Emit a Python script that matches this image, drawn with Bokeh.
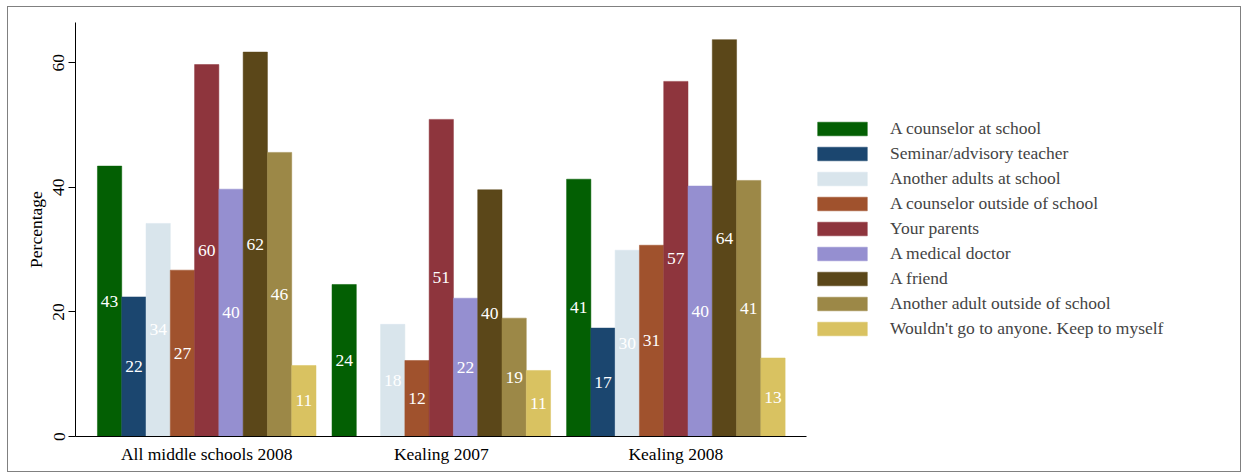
from bokeh.plotting import figure
from bokeh.models import Range1d, FixedTicker, Legend, LegendItem, ColumnDataSource
from bokeh.embed import file_html
from bokeh.resources import INLINE
from bokeh.core.properties import value

# ---- data ----
groups = ["All middle schools 2008", "Kealing 2007", "Kealing 2008"]
series = [
    "A counselor at school",
    "Seminar/advisory teacher",
    "Another adults at school",
    "A counselor outside of school",
    "Your parents",
    "A medical doctor",
    "A friend",
    "Another adult outside of school",
    "Wouldn't go to anyone. Keep to myself",
]
counselor_school = [43.4, 24.4, 41.3]
advisory_teacher = [22.4, None, 17.4]
other_adult_school = [34.2, 18.0, 29.9]
counselor_outside = [26.7, 12.2, 30.7]
parents = [59.7, 50.9, 57.0]
doctor = [39.7, 22.2, 40.2]
friend = [61.7, 39.6, 63.7]
other_adult_outside = [45.6, 19.0, 41.1]
nobody = [11.4, 10.6, 12.6]
values = [counselor_school, advisory_teacher, other_adult_school, counselor_outside,
          parents, doctor, friend, other_adult_outside, nobody]
colors = ["#035F03", "#1B466F", "#D9E5EC", "#A0522D", "#8E353D",
          "#958FD0", "#5B4719", "#9C8847", "#D9C261"]
y_ticks = [0, 20, 40, 60]

FONT = "Liberation Serif"
FS = "17.5px"

n = len(series)
gap = 0.66
group_starts = [g * (n + gap) for g in range(len(groups))]
group_centers = [s + n / 2 for s in group_starts]
axis_start = -0.904
axis_end = group_starts[-1] + n + 0.88
frame_px = 1167.0
px_per_unit = 731.0 / (axis_end - axis_start)
x_end = axis_start + frame_px / px_per_unit

p = figure(width=1234, height=466, output_backend="svg", toolbar_location=None,
           x_range=Range1d(axis_start, x_end), y_range=Range1d(0, 66.45),
           min_border_left=67, min_border_right=0, min_border_top=15, min_border_bottom=37,
           margin=(6, 0, 0, 7),
           styles={"border": "1px solid #808080"})
p.outline_line_color = None
p.xgrid.visible = False
p.ygrid.visible = False
p.background_fill_color = "white"
p.border_fill_color = "white"

items = []
for i, (name, vals, col) in enumerate(zip(series, values, colors)):
    xs, ys, labs = [], [], []
    for g, v in enumerate(vals):
        if v is None:
            continue
        xs.append(group_starts[g] + i + 0.5)
        ys.append(v)
        labs.append(f"{v:.0f}")
    src = ColumnDataSource(dict(x=xs, top=ys, mid=[y / 2 for y in ys], lab=labs))
    r = p.vbar(x="x", top="top", bottom=0, width=1.0, source=src,
               fill_color=col, line_color=col, line_width=0.5)
    p.text(x="x", y="mid", text="lab", source=src, text_color="white",
           text_font=value(FONT), text_font_size=FS,
           text_align="center", text_baseline="middle")
    items.append(LegendItem(label=name, renderers=[r]))

legend = Legend(items=items, location=(736, 97), orientation="vertical",
                glyph_width=62, glyph_height=17, label_height=17, spacing=4,
                padding=0, margin=0, label_standoff=17,
                border_line_color=None, background_fill_alpha=0,
                label_text_font=FONT, label_text_font_size=FS)
p.add_layout(legend)

# x axis
xa = p.xaxis[0]
xa.ticker = FixedTicker(ticks=group_centers)
xa.major_label_overrides = {c: g for c, g in zip(group_centers, groups)}
xa.bounds = (axis_start, axis_end)
xa.major_tick_line_color = None
xa.minor_tick_line_color = None
xa.major_label_standoff = 1
xa.axis_line_color = "black"
xa.major_label_text_font = FONT
xa.major_label_text_font_size = FS
xa.major_label_text_color = "black"

# y axis
ya = p.yaxis[0]
ya.ticker = FixedTicker(ticks=y_ticks)
ya.major_label_orientation = "vertical"
ya.major_tick_out = 7
ya.major_tick_in = 0
ya.minor_tick_line_color = None
ya.major_label_standoff = 4
ya.axis_line_color = "black"
ya.major_tick_line_color = "black"
ya.major_label_text_font = FONT
ya.major_label_text_font_size = FS
ya.major_label_text_color = "black"
ya.axis_label = "Percentage"
ya.axis_label_text_font = FONT
ya.axis_label_text_font_size = FS
ya.axis_label_text_font_style = "normal"
ya.axis_label_text_color = "black"
ya.axis_label_standoff = 5

open("out.html", "w").write(file_html(p, INLINE))
